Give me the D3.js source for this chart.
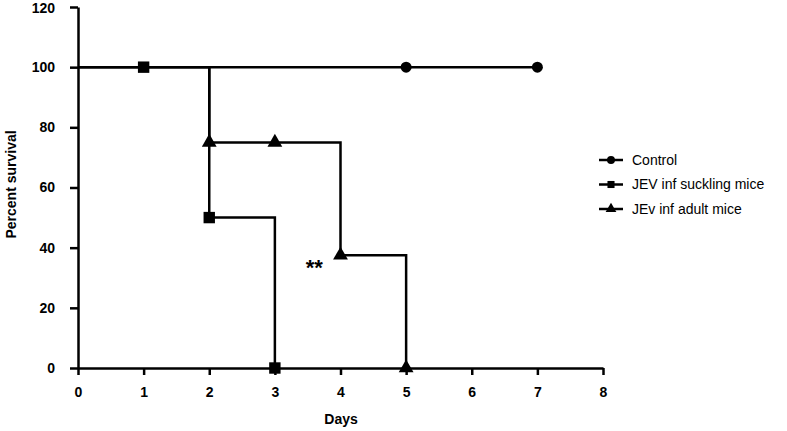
<!DOCTYPE html>
<html>
<head>
<meta charset="utf-8">
<script src="https://cdn.jsdelivr.net/npm/d3@7"></script>
<style>
  body { margin: 0; background: #fff; }
  text { font-family: "Liberation Sans", Arial, sans-serif; }
</style>
</head>
<body>
<div id="chart"></div>
<script>
'use strict';

// survival data (days, percent)
var seriesNames = ['Control', 'JEV inf suckling mice', 'JEv inf adult mice'];
var controlSteps = [[0, 100], [7, 100]];
var controlMarks = [[5, 100], [7, 100]];
var sucklingSteps = [[0, 100], [2, 100], [2, 50], [3, 50], [3, 0]];
var sucklingMarks = [[1, 100], [2, 50], [3, 0]];
var adultSteps = [[2, 100], [2, 75], [4, 75], [4, 37.5], [5, 37.5], [5, 0]];
var adultMarks = [[2, 75], [3, 75], [4, 37.5], [5, 0]];
var xTicks = [0, 1, 2, 3, 4, 5, 6, 7, 8];
var yTicks = [0, 20, 40, 60, 80, 100, 120];

var width = 787;
var height = 431;
var margin = { top: 7, right: 184, bottom: 63, left: 78 };

var svg = d3.select('#chart').append('svg')
    .attr('width', width)
    .attr('height', height);

var x = d3.scaleLinear().domain([0, 8]).range([margin.left, width - margin.right]);
var y = d3.scaleLinear().domain([0, 120]).range([height - margin.bottom, margin.top]);

var xAxis = svg.append('g')
    .attr('transform', 'translate(0,' + y(0) + ')')
    .call(d3.axisBottom(x).tickValues(xTicks).tickSize(7).tickSizeOuter(0).tickPadding(12));
var yAxis = svg.append('g')
    .attr('transform', 'translate(' + x(0) + ',0)')
    .call(d3.axisLeft(y).tickValues(yTicks).tickSize(8).tickSizeOuter(0).tickPadding(15));

[xAxis, yAxis].forEach(function (axis) {
    axis.select('.domain').attr('stroke', '#000').attr('stroke-width', 2.5);
    axis.selectAll('.tick line').attr('stroke', '#000').attr('stroke-width', 2.5);
    axis.selectAll('.tick text')
        .attr('fill', '#000')
        .style('font-size', '14px')
        .style('font-weight', 'bold');
});
// keep the top label inside the frame
yAxis.selectAll('.tick text').filter(function (d) { return d === 120; }).attr('dy', '0.4em');

svg.append('text')
    .attr('x', 341)
    .attr('y', 424)
    .attr('text-anchor', 'middle')
    .style('font-size', '14px')
    .style('font-weight', 'bold')
    .text('Days');

svg.append('text')
    .attr('transform', 'translate(16,' + y(61) + ') rotate(-90)')
    .attr('text-anchor', 'middle')
    .style('font-size', '14px')
    .style('font-weight', 'bold')
    .text('Percent survival');

var line = d3.line()
    .x(function (d) { return x(d[0]); })
    .y(function (d) { return y(d[1]); });

var symbols = [d3.symbolCircle, d3.symbolSquare, d3.symbolTriangle];
var symbolSizes = [95, 130, 95];
var steps = [controlSteps, sucklingSteps, adultSteps];
var marks = [controlMarks, sucklingMarks, adultMarks];

steps.forEach(function (s) {
    svg.append('path')
        .datum(s)
        .attr('d', line)
        .attr('fill', 'none')
        .attr('stroke', '#000')
        .attr('stroke-width', 2.5);
});

marks.forEach(function (m, i) {
    svg.selectAll('.mark' + i)
        .data(m)
        .enter().append('path')
        .attr('class', 'mark' + i)
        .attr('transform', function (d) { return 'translate(' + x(d[0]) + ',' + y(d[1]) + ')'; })
        .attr('d', d3.symbol().type(symbols[i]).size(symbolSizes[i]))
        .attr('fill', '#000');
});

svg.append('text')
    .attr('x', x(3.6))
    .attr('y', y(37.5) + 20)
    .attr('text-anchor', 'middle')
    .style('font-size', '22px')
    .style('font-weight', 'bold')
    .text('**');

var legend = svg.append('g').attr('transform', 'translate(599,160)');
seriesNames.forEach(function (name, i) {
    var row = legend.append('g').attr('transform', 'translate(0,' + i * 24.5 + ')');
    row.append('line')
        .attr('x1', 0).attr('x2', 24)
        .attr('stroke', '#000').attr('stroke-width', 2.5);
    row.append('path')
        .attr('transform', 'translate(12,0)')
        .attr('d', d3.symbol().type(symbols[i]).size(50))
        .attr('fill', '#000');
    row.append('text')
        .attr('x', 33)
        .attr('dy', '0.35em')
        .style('font-size', '14px')
        .text(name);
});
</script>
</body>
</html>
